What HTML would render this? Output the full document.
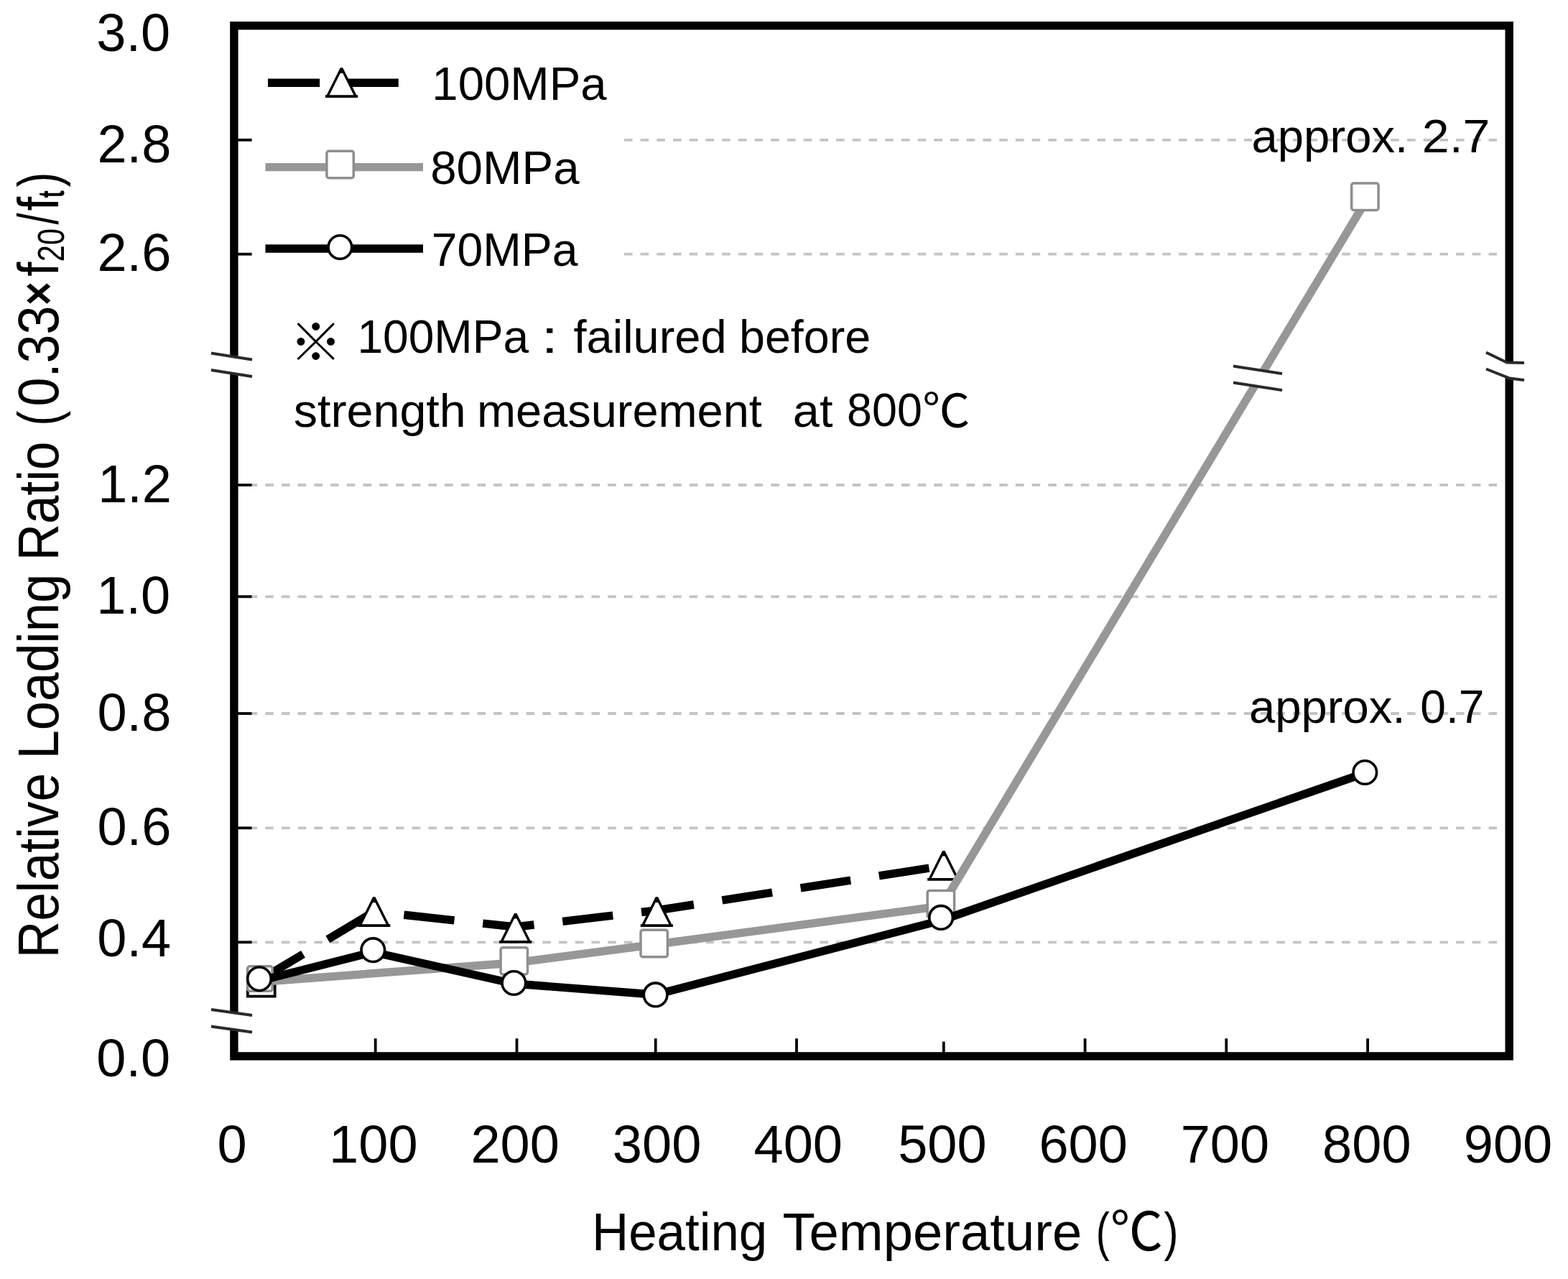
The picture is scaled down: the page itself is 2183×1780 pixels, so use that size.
<!DOCTYPE html>
<html lang="en">
<head>
<meta charset="utf-8">
<title>Relative Loading Ratio vs Heating Temperature</title>
<style>
html,body{margin:0;padding:0;background:#fff;}
body{width:2183px;height:1780px;overflow:hidden;}
svg{display:block;}
text{font-family:"Liberation Sans", "Noto Sans CJK KR", sans-serif;fill:#000;}
</style>
</head>
<body>
<svg width="2183" height="1780" viewBox="0 0 2183 1780">
<rect x="0" y="0" width="2183" height="1780" fill="#fff"/>

<g stroke="#c4c4c4" stroke-width="3.8" stroke-dasharray="11.6 11.11" fill="none">
<line x1="346.55" y1="194.8" x2="2084.5" y2="194.8"/>
<line x1="346.55" y1="353.7" x2="2084.5" y2="353.7"/>
<line x1="346.55" y1="675.0" x2="2084.5" y2="675.0"/>
<line x1="346.55" y1="830.3" x2="2084.5" y2="830.3"/>
<line x1="346.55" y1="993.0" x2="2084.5" y2="993.0"/>
<line x1="346.55" y1="1152.3" x2="2084.5" y2="1152.3"/>
<line x1="346.55" y1="1311.3" x2="2084.5" y2="1311.3"/>
</g>
<rect x="350.5" y="60" width="516.5" height="320" fill="#fff"/>
<rect x="325.9" y="35.7" width="1775.3" height="1434.2" fill="none" stroke="#000" stroke-width="11.4"/>
<g stroke="#000" stroke-width="3.8">
<line x1="331" y1="194.8" x2="350.5" y2="194.8"/>
<line x1="331" y1="353.7" x2="350.5" y2="353.7"/>
<line x1="331" y1="675.0" x2="350.5" y2="675.0"/>
<line x1="331" y1="830.3" x2="350.5" y2="830.3"/>
<line x1="331" y1="993.0" x2="350.5" y2="993.0"/>
<line x1="331" y1="1152.3" x2="350.5" y2="1152.3"/>
<line x1="331" y1="1311.3" x2="350.5" y2="1311.3"/>
<line x1="522.7" y1="1445.3" x2="522.7" y2="1465"/>
<line x1="719.5" y1="1445.3" x2="719.5" y2="1465"/>
<line x1="912.7" y1="1445.3" x2="912.7" y2="1465"/>
<line x1="1109.0" y1="1445.3" x2="1109.0" y2="1465"/>
<line x1="1313.8" y1="1449.6" x2="1313.8" y2="1465"/>
<line x1="1510.6" y1="1445.3" x2="1510.6" y2="1465"/>
<line x1="1707.3" y1="1445.3" x2="1707.3" y2="1465"/>
<line x1="1904.1" y1="1445.3" x2="1904.1" y2="1465"/>
</g>
<g fill="none" stroke="#000" stroke-width="11.4" stroke-dasharray="70.5 40">
<line x1="361.5" y1="1364.0" x2="520.8" y2="1268.8" stroke-dashoffset="0"/>
<line x1="520.8" y1="1268.8" x2="717.7" y2="1290.0" stroke-dashoffset="68.7"/>
<line x1="717.7" y1="1290.0" x2="914.4" y2="1267.0" stroke-dashoffset="44.5"/>
<line x1="914.4" y1="1267.0" x2="1313.6" y2="1205.0" stroke-dashoffset="18.4"/>
</g>
<rect x="344.8" y="1349.3" width="37.9" height="37.3" fill="#fff" stroke="#000" stroke-width="3.8"/>
<polygon points="519.1,1248.3 522.5,1248.3 541.5,1286.3 543.4,1286.3 543.4,1290.0 498.2,1290.0 498.2,1286.3 500.1,1286.3" fill="#000"/>
<polygon points="519.1,1255.9 522.5,1255.9 537.7,1286.3 503.9,1286.3" fill="#fff"/>
<polygon points="716.0,1271.0 719.4,1271.0 738.4,1309.0 740.3,1309.0 740.3,1312.7 695.1,1312.7 695.1,1309.0 697.0,1309.0" fill="#000"/>
<polygon points="716.0,1278.6 719.4,1278.6 734.6,1309.0 700.8,1309.0" fill="#fff"/>
<polygon points="912.7,1248.3 916.1,1248.3 935.1,1286.3 937.0,1286.3 937.0,1290.0 891.8,1290.0 891.8,1286.3 893.7,1286.3" fill="#000"/>
<polygon points="912.7,1255.9 916.1,1255.9 931.3,1286.3 897.5,1286.3" fill="#fff"/>
<polygon points="1312.1,1184.0 1315.5,1184.0 1334.5,1222.0 1336.4,1222.0 1336.4,1225.7 1291.2,1225.7 1291.2,1222.0 1293.1,1222.0" fill="#000"/>
<polygon points="1312.1,1191.6 1315.5,1191.6 1330.7,1222.0 1296.9,1222.0" fill="#fff"/>
<polyline points="362.0,1366.5 716.0,1340.0 911.0,1314.5 1311.0,1261.0 1905.0,274.0" fill="none" stroke="#979797" stroke-width="11.4" stroke-linejoin="round"/>
<rect x="344.8" y="1344.8" width="34.4" height="34.4" rx="3" fill="#fff" stroke="#8e8e8e" stroke-width="3.5"/>
<rect x="697.1" y="1318.7" width="37.4" height="37.4" rx="3" fill="#fff" stroke="#8e8e8e" stroke-width="3.5"/>
<rect x="892.0" y="1294.3" width="37.4" height="37.4" rx="3" fill="#fff" stroke="#8e8e8e" stroke-width="3.5"/>
<rect x="1291.2" y="1239.4" width="37.4" height="37.4" rx="3" fill="#fff" stroke="#8e8e8e" stroke-width="3.5"/>
<rect x="1881.7" y="255.1" width="37.4" height="37.4" rx="3" fill="#fff" stroke="#8e8e8e" stroke-width="3.5"/>
<polyline points="361.5,1365.0 519.0,1325.0 715.4,1369.0 912.6,1384.3 1310.0,1281.0 1900.0,1076.0" fill="none" stroke="#000" stroke-width="11.4" stroke-linejoin="round"/>
<circle cx="361.0" cy="1362.3" r="16.3" fill="#fff" stroke="#000" stroke-width="3.6"/>
<circle cx="519.3" cy="1322.2" r="16.3" fill="#fff" stroke="#000" stroke-width="3.6"/>
<circle cx="715.4" cy="1368.0" r="16.3" fill="#fff" stroke="#000" stroke-width="3.6"/>
<circle cx="912.6" cy="1384.4" r="16.3" fill="#fff" stroke="#000" stroke-width="3.6"/>
<circle cx="1310.1" cy="1276.9" r="16.3" fill="#fff" stroke="#000" stroke-width="3.6"/>
<circle cx="1900.3" cy="1075.0" r="16.3" fill="#fff" stroke="#000" stroke-width="3.6"/>
<polygon points="294,491.5 351,500.5 351,524 294,515" fill="#fff"/>
<polyline points="294,491.5 351,500.5" fill="none" stroke="#2a2a2a" stroke-width="3.9"/>
<polyline points="294,515 351,524" fill="none" stroke="#2a2a2a" stroke-width="3.9"/>
<polygon points="294,1405 351,1413 351,1436.5 294,1428.5" fill="#fff"/>
<polyline points="294,1405 351,1413" fill="none" stroke="#2a2a2a" stroke-width="3.9"/>
<polyline points="294,1428.5 351,1436.5" fill="none" stroke="#2a2a2a" stroke-width="3.9"/>
<polygon points="2069,490.5 2098,504.5 2122,505 2122,529 2102,526.5 2069,513.5" fill="#fff"/>
<polyline points="2069,490.5 2098,504.5 2122,505" fill="none" stroke="#2a2a2a" stroke-width="3.9"/>
<polyline points="2069,513.5 2102,526.5 2122,529" fill="none" stroke="#2a2a2a" stroke-width="3.9"/>
<polygon points="1717,509.5 1785,520 1785,543 1717,532.5" fill="#fff"/>
<polyline points="1717,509.5 1785,520" fill="none" stroke="#2a2a2a" stroke-width="3.9"/>
<polyline points="1717,532.5 1785,543" fill="none" stroke="#2a2a2a" stroke-width="3.9"/>
<g stroke="#000" stroke-width="11.4"><line x1="373" y1="115.3" x2="445.1" y2="115.3"/><line x1="483" y1="115.3" x2="554.8" y2="115.3"/></g>
<polygon points="473.8,94.2 477.2,94.2 496.2,132.2 498.1,132.2 498.1,135.9 452.9,135.9 452.9,132.2 454.8,132.2" fill="#000"/>
<polygon points="473.8,101.8 477.2,101.8 492.4,132.2 458.6,132.2" fill="#fff"/>
<line x1="369.5" y1="232.6" x2="589" y2="232.6" stroke="#979797" stroke-width="11.4"/>
<rect x="454.9" y="210.3" width="37.4" height="37.4" rx="3" fill="#fff" stroke="#8e8e8e" stroke-width="3.5"/>
<line x1="369.5" y1="346" x2="589" y2="346" stroke="#000" stroke-width="11.4"/>
<circle cx="473.4" cy="344.0" r="16.3" fill="#fff" stroke="#000" stroke-width="3.6"/>
<text x="134.27" y="70.64" font-size="74">3.0</text>
<text x="135.43" y="226.19" font-size="74">2.8</text>
<text x="135.43" y="377.29" font-size="74">2.6</text>
<text x="136.13" y="699.47" font-size="74">1.2</text>
<text x="134.27" y="854.04" font-size="74">1.0</text>
<text x="135.43" y="1016.99" font-size="74">0.8</text>
<text x="135.43" y="1176.04" font-size="74">0.6</text>
<text x="135.37" y="1331.04" font-size="74">0.4</text>
<text x="134.27" y="1497.59" font-size="74">0.0</text>
<text x="302.59" y="1617.74" font-size="74">0</text>
<text x="458.08" y="1617.74" font-size="74">100</text>
<text x="655.40" y="1617.74" font-size="74">200</text>
<text x="852.83" y="1617.74" font-size="74">300</text>
<text x="1049.51" y="1617.74" font-size="74">400</text>
<text x="1250.23" y="1617.74" font-size="74">500</text>
<text x="1446.45" y="1617.74" font-size="74">600</text>
<text x="1643.65" y="1617.74" font-size="74">700</text>
<text x="1841.08" y="1617.74" font-size="74">800</text>
<text x="2037.75" y="1617.74" font-size="74">900</text>
<text x="601.32" y="139.00" font-size="64" textLength="243.27" lengthAdjust="spacingAndGlyphs">100MPa</text>
<text x="599.15" y="256.45" font-size="64" textLength="207.43" lengthAdjust="spacingAndGlyphs">80MPa</text>
<text x="600.68" y="370.00" font-size="64" textLength="203.81" lengthAdjust="spacingAndGlyphs">70MPa</text>
<text><tspan x="403.18" y="502.46" font-size="72" font-weight="300" textLength="72.93" lengthAdjust="spacingAndGlyphs">※</tspan> <tspan x="497.39" y="490.95" font-size="64" textLength="238.80" lengthAdjust="spacingAndGlyphs">100MPa</tspan> <tspan x="753.56" y="491.40" font-size="64" textLength="23.62" lengthAdjust="spacingAndGlyphs">:</tspan> <tspan x="798.50" y="491.40" font-size="64" textLength="213.15" lengthAdjust="spacingAndGlyphs">failured</tspan> <tspan x="1028.96" y="491.40" font-size="64" textLength="183.16" lengthAdjust="spacingAndGlyphs">before</tspan></text>
<text><tspan x="408.76" y="593.80" font-size="64" textLength="239.97" lengthAdjust="spacingAndGlyphs">strength</tspan> <tspan x="663.94" y="593.80" font-size="64" textLength="396.94" lengthAdjust="spacingAndGlyphs">measurement</tspan> <tspan x="1103.81" y="593.80" font-size="64" textLength="55.66" lengthAdjust="spacingAndGlyphs">at</tspan> <tspan x="1179.04" y="593.25" font-size="64" textLength="104.83" lengthAdjust="spacingAndGlyphs">800</tspan><tspan x="1284.29" y="593.80" font-size="64" textLength="66.28" lengthAdjust="spacingAndGlyphs">℃</tspan></text>
<text><tspan x="1742.56" y="211.70" font-size="64" textLength="217.63" lengthAdjust="spacingAndGlyphs">approx.</tspan> <tspan x="1979.81" y="211.50" font-size="64" textLength="94.65" lengthAdjust="spacingAndGlyphs">2.7</tspan></text>
<text><tspan x="1738.96" y="1006.20" font-size="64" textLength="217.63" lengthAdjust="spacingAndGlyphs">approx.</tspan> <tspan x="1977.29" y="1005.75" font-size="64" textLength="89.31" lengthAdjust="spacingAndGlyphs">0.7</tspan></text>
<text><tspan x="823.96" y="1740.30" font-size="74" textLength="244.32" lengthAdjust="spacingAndGlyphs">Heating</tspan> <tspan x="1089.44" y="1740.30" font-size="74" textLength="416.87" lengthAdjust="spacingAndGlyphs">Temperature</tspan> <tspan x="1525.83" y="1740.30" font-size="74" textLength="18.94" lengthAdjust="spacingAndGlyphs">(</tspan><tspan x="1545.76" y="1740.30" font-size="74" textLength="73.44" lengthAdjust="spacingAndGlyphs">℃</tspan><tspan x="1620.50" y="1740.30" font-size="74" textLength="20.13" lengthAdjust="spacingAndGlyphs">)</tspan></text>
<text transform="rotate(-90)"><tspan x="-1333.16" y="80.70" font-size="79" textLength="257.25" lengthAdjust="spacingAndGlyphs">Relative</tspan> <tspan x="-1056.56" y="80.70" font-size="79" textLength="257.83" lengthAdjust="spacingAndGlyphs">Loading</tspan> <tspan x="-780.35" y="80.70" font-size="79" textLength="165.93" lengthAdjust="spacingAndGlyphs">Ratio</tspan> <tspan x="-592.83" y="80.70" font-size="79" textLength="20.84" lengthAdjust="spacingAndGlyphs">(</tspan><tspan x="-565.45" y="80.70" font-size="79" textLength="140.07" lengthAdjust="spacingAndGlyphs">0.33</tspan><tspan x="-424.96" y="75.77" font-size="66" font-weight="bold" textLength="32.84" lengthAdjust="spacingAndGlyphs">×</tspan><tspan x="-384.70" y="80.70" font-size="79" textLength="20.25" lengthAdjust="spacingAndGlyphs">f</tspan><tspan x="-364.16" y="88.70" font-size="52" textLength="46.39" lengthAdjust="spacingAndGlyphs">20</tspan><tspan x="-312.60" y="80.70" font-size="79" textLength="16.00" lengthAdjust="spacingAndGlyphs">/</tspan><tspan x="-293.40" y="80.70" font-size="79" textLength="19.76" lengthAdjust="spacingAndGlyphs">f</tspan><tspan x="-275.20" y="88.70" font-size="52" font-weight="bold" textLength="10.05" lengthAdjust="spacingAndGlyphs">t</tspan><tspan x="-260.20" y="80.70" font-size="79" textLength="20.72" lengthAdjust="spacingAndGlyphs">)</tspan></text>
</svg>
</body>
</html>
